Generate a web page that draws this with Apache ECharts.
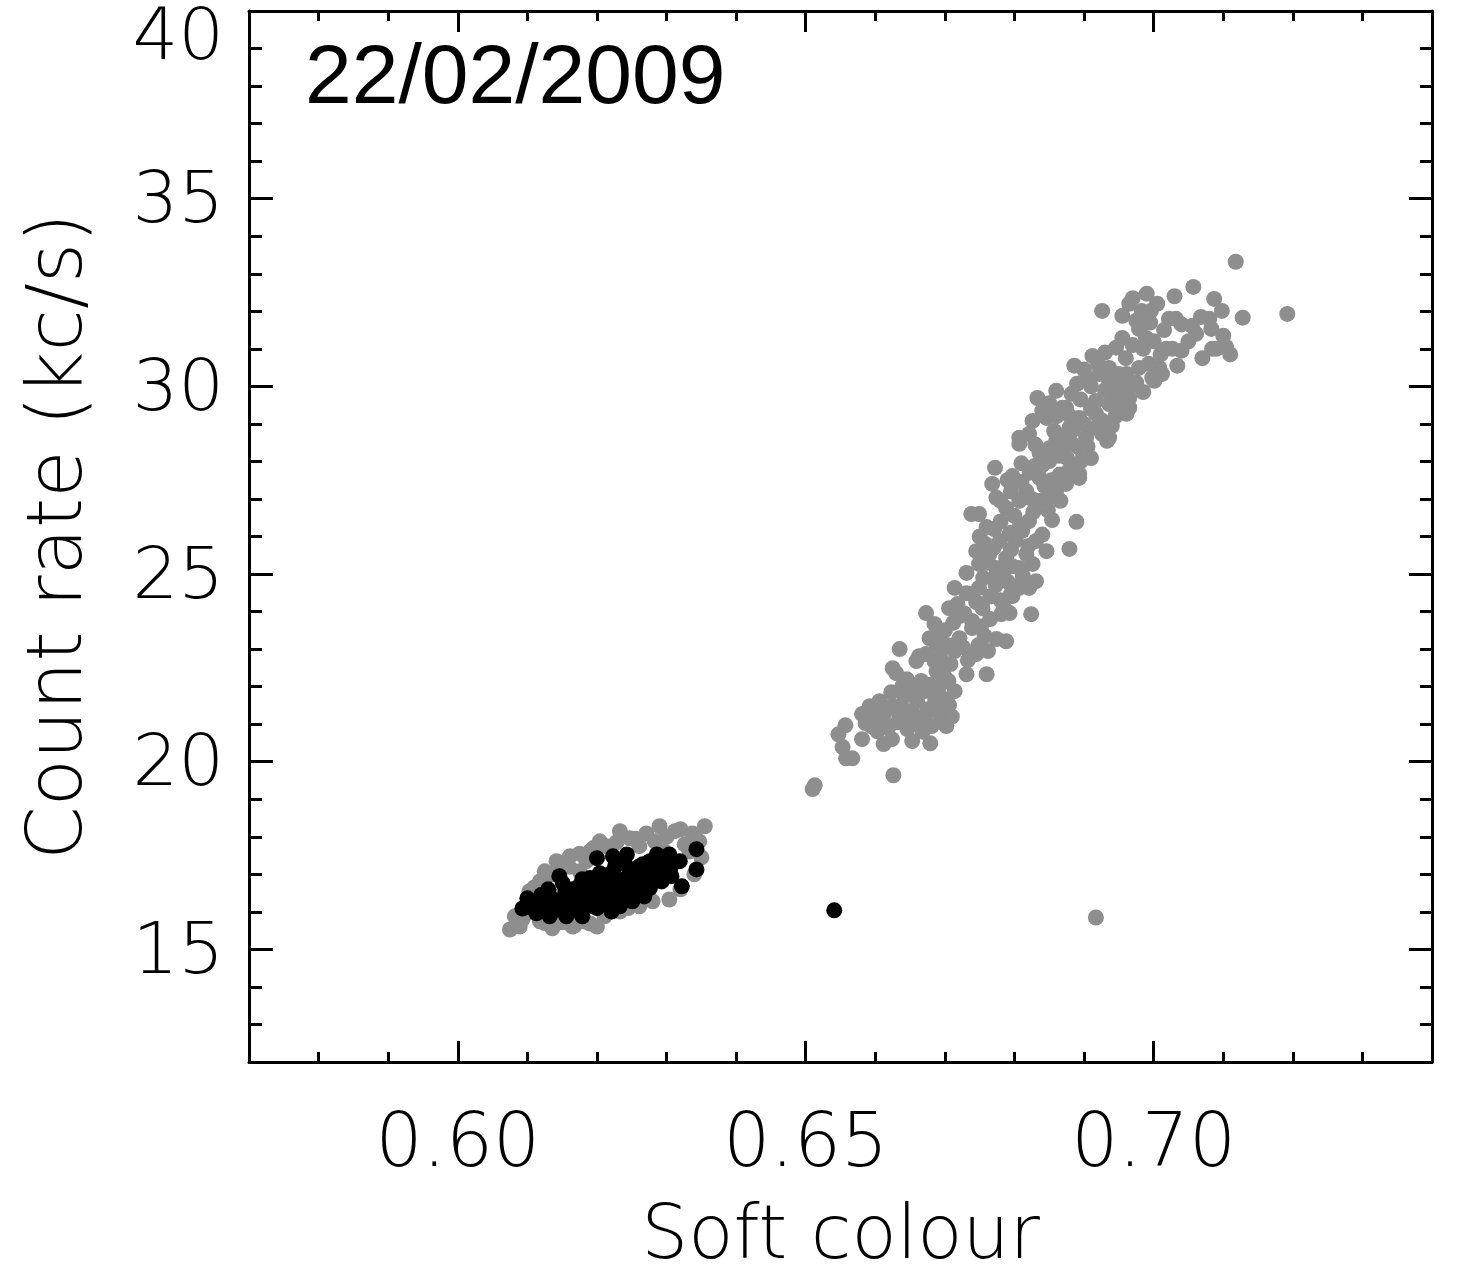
<!DOCTYPE html>
<html>
<head>
<meta charset="utf-8">
<script src="https://cdn.jsdelivr.net/npm/echarts@6/dist/echarts.min.js"></script>
<style>
html,body{margin:0;padding:0;background:#fff;}
#chart{width:1466px;height:1268px;}
</style>
</head>
<body>
<div id="chart"></div>
<script>
// ---- data (soft colour, count rate kc/s) ----
const xTickLabels = [0.60, 0.65, 0.70];
const yTickLabels = [15, 20, 25, 30, 35, 40];

const grayBandLow = [
[0.6510,19.27],[0.6513,19.37],[0.6547,20.73],[0.6557,20.97],[0.6553,20.39],[0.6558,20.09],[0.6567,20.09],[0.6581,21.27],[0.6581,20.60],[0.6626,19.64],[0.6612,20.47],[0.6653,20.55],[0.6679,20.49],[0.6702,20.97],[0.6706,21.51],
[0.6592,21.48],[0.6599,21.13],[0.6606,21.61],[0.6613,21.29],[0.6620,20.95],[0.6627,21.48],[0.6635,21.21],[0.6642,21.75],[0.6646,20.87],[0.6652,21.35],[0.6660,21.61],[0.6663,21.08],[0.6670,21.88],[0.6675,21.40],[0.6681,20.95],[0.6686,21.67],[0.6692,21.29],[0.6603,20.81],[0.6624,20.60],[0.6586,21.03],[0.6639,22.01],[0.6649,22.01],[0.6692,22.01],[0.6666,22.15],[0.6630,22.36],[0.6625,22.49],[0.6635,23.00],[0.6649,21.96],[0.6702,20.95],[0.6685,22.68],[0.6699,22.28],[0.6714,21.88],
[0.6600,21.30],[0.6610,20.90],[0.6618,21.45],[0.6632,21.05],[0.6640,21.40],[0.6655,21.15],[0.6668,20.80],[0.6672,21.25],[0.6683,21.45],[0.6695,21.70],[0.6658,21.85],[0.6645,22.20],[0.6678,22.05],[0.6690,22.45],[0.6705,22.15],[0.6594,20.95],[0.6623,21.85],[0.6697,21.05],[0.6710,21.20]
];
const grayBandMid = [
[0.6731,25.03],[0.6714,24.63],[0.6706,24.09],[0.6731,24.49],[0.6749,25.27],[0.6774,25.16],[0.6797,25.21],[0.6803,24.68],[0.6821,24.63],[0.6797,24.41],[0.6824,23.93],[0.6793,23.96],[0.6781,23.93],[0.6788,23.21],[0.6774,23.27],[0.6731,22.33],[0.6760,22.33],[0.6745,22.87],[0.6739,23.56],[0.6721,23.29],[0.6685,23.67],[0.6688,23.13],[0.6696,22.49],[0.6688,21.80],[0.6754,24.09],[0.6739,23.75],[0.6673,23.96],[0.6678,23.29],[0.6663,22.81],[0.6714,22.95],[0.6757,23.35],[0.6721,23.88],[0.6659,22.68],[0.6673,22.87],[0.6688,22.41],
[0.6693,22.80],[0.6705,23.10],[0.6700,23.50],[0.6712,23.70],[0.6726,23.05],[0.6733,22.70],[0.6748,23.10],[0.6752,23.60],[0.6765,23.80],[0.6762,22.95],[0.6718,24.20],[0.6728,23.95],[0.6745,24.25],[0.6765,24.40],[0.6780,24.30],[0.6773,24.70],[0.6693,23.40],[0.6708,22.60],[0.6785,24.10],
[0.6772,27.83],[0.6768,27.40],[0.6774,27.03],[0.6738,26.60],[0.6749,26.60],[0.6771,26.20],[0.6854,26.44],[0.6889,26.39],[0.6879,25.67],[0.6807,28.63],[0.6821,28.73],[0.6846,29.16],[0.6910,28.09],[0.6936,28.63],[0.6961,29.27],[0.6745,25.61],[0.6807,24.63],
[0.6807,28.47],[0.6836,28.23],[0.6860,28.55],[0.6883,28.47],[0.6893,29.16],[0.6917,28.89],[0.6874,29.43],[0.6850,28.01],[0.6883,27.83],[0.6893,27.56],[0.6836,27.56],[0.6817,27.21],[0.6807,26.95],[0.6788,26.76],[0.6836,26.95],[0.6860,27.21],[0.6874,27.40],[0.6793,26.07],[0.6811,26.15],[0.6831,25.88],[0.6846,25.61],[0.6817,25.53],[0.6788,25.43],[0.6764,25.53],[0.6774,25.00],[0.6807,25.16],[0.6826,25.27],[0.6831,24.81],[0.6739,24.47],[0.6749,24.63],[0.6795,24.47],
[0.6840,29.35],[0.6826,29.08],[0.6857,28.81],[0.6864,28.15],[0.6829,27.88],[0.6797,27.61],[0.6843,27.35],[0.6866,26.95],[0.6800,26.55],[0.6821,26.41],[0.6779,25.88],
[0.6755,24.90],[0.6762,25.30],[0.6785,25.10],[0.6790,24.80],[0.6812,24.95],[0.6758,25.80],[0.6770,25.70],[0.6795,25.65],[0.6802,25.90],[0.6820,25.75],[0.6840,26.05],[0.6760,26.25],[0.6780,26.40],[0.6808,26.30],[0.6827,26.65],[0.6848,26.70],[0.6795,26.10],[0.6750,26.00],
[0.6780,26.95],[0.6795,27.20],[0.6810,27.45],[0.6825,27.00],[0.6850,27.05],[0.6853,27.50],[0.6822,27.70],[0.6810,27.95],[0.6840,27.90],[0.6865,27.65],[0.6875,28.10],[0.6850,28.35],[0.6830,28.45],[0.6895,28.00],[0.6905,28.40],[0.6790,27.50],[0.6870,28.30]
];
const grayBandHigh = [
[0.6886,30.55],[0.6903,30.23],[0.6890,30.07],[0.6882,29.80],[0.6869,29.43],[0.6912,30.81],[0.6955,31.29],[0.6946,31.03],[0.6989,31.29],[0.7018,31.00],[0.7027,31.00],[0.7034,30.55],[0.7008,30.49],[0.7001,30.15],[0.6965,29.69],[0.6936,30.15],[0.6961,30.33],[0.6979,30.49],[0.6936,29.53],[0.6917,29.27],[0.6926,28.73],[0.6933,28.55],[0.6893,28.36],[0.6878,27.75],[0.6893,27.67],[0.6874,28.63],[0.7061,31.40],[0.7084,31.00],
[0.7118,33.32],[0.7192,31.93],[0.7128,31.83],[0.7057,32.65],[0.7087,32.33],[0.7098,32.01],[0.7080,31.80],[0.7055,31.61],[0.7083,31.53],[0.7090,31.00],[0.7104,31.05],[0.7022,31.80],[0.7032,31.80],[0.6990,32.47],[0.6965,32.20],[0.6955,31.88],[0.6926,32.01],[0.6983,32.01],[0.6996,32.01],[0.6979,31.53],[0.7012,30.33],[0.6860,29.88],[0.6833,29.69],
[0.6936,30.49],[0.6922,30.33],[0.6950,30.33],[0.6965,29.96],[0.6946,29.80],[0.6965,29.43],[0.6917,29.61],[0.6879,28.89],[0.6903,28.63],[0.6993,30.60],[0.6998,30.23],
[0.6885,28.85],[0.6900,29.00],[0.6910,29.40],[0.6895,29.65],[0.6880,29.20],[0.6925,29.10],[0.6945,29.20],[0.6950,29.55],[0.6930,29.90],[0.6910,30.00],[0.6900,30.45],[0.6955,30.00],[0.6975,30.10],[0.6985,29.85],[0.6940,28.95],[0.6860,29.20],[0.6920,30.60],[0.6850,29.55],
[0.6930,30.90],[0.6960,30.75],[0.6970,31.10],[0.6985,31.00],[0.7000,31.20],[0.7010,30.85],[0.7040,30.95],[0.7050,31.20],[0.7015,31.50],[0.6995,31.70],[0.7040,31.65],[0.7068,31.85],[0.6970,32.35],[0.7005,32.20],[0.7030,32.40],[0.6975,31.75],[0.7070,30.75],[0.7100,31.35],[0.7110,30.85]
];
const grayClump = [
[0.6075,15.53],[0.6082,15.88],[0.6093,15.80],[0.6089,15.61],[0.6136,15.56],[0.6165,15.61],[0.6190,15.69],[0.6211,15.88],[0.6233,16.01],[0.6261,16.15],[0.6304,16.33],[0.6142,17.35],[0.6161,17.48],[0.6190,17.61],[0.6214,17.75],[0.6247,17.96],[0.6271,18.09],[0.6290,18.28],[0.6312,18.15],[0.6337,18.09],[0.6355,18.28],[0.6347,17.88],[0.6125,17.08],[0.6118,16.81],[0.6103,16.55],[0.6233,18.15],[0.6326,17.80],[0.6283,17.88],[0.6154,15.88],[0.6118,15.75],[0.6175,16.15],[0.6240,17.21],[0.6276,17.08],[0.6175,17.08],[0.6218,16.68],[0.6146,16.41],[0.6261,16.55],[0.6333,17.61],[0.6297,17.61],[0.6204,17.88],[0.6261,17.75],[0.6204,16.28],[0.6168,15.64],[0.6200,15.61],
[0.6110,16.20],[0.6098,15.95],[0.6125,15.70],[0.6150,15.72],[0.6180,15.75],[0.6215,15.98],[0.6245,16.10],[0.6280,16.28],[0.6320,16.60],[0.6340,17.00],[0.6350,17.45],[0.6340,18.00],[0.6320,18.20],[0.6300,18.00],[0.6255,17.95],[0.6228,17.85],[0.6195,17.70],[0.6175,17.55],[0.6150,17.25],[0.6135,17.00],[0.6110,16.65],[0.6160,17.20],[0.6185,17.35]
];
const grayOutliers = [[0.6917,15.85]];

const blackClump = [
[0.6100,16.36],[0.6093,16.09],[0.6113,15.96],[0.6146,16.95],[0.6151,16.76],[0.6132,16.41],[0.6165,16.60],[0.6179,16.87],[0.6200,17.43],[0.6204,17.03],[0.6156,15.88],[0.6179,15.88],[0.6194,16.15],[0.6132,15.88],[0.6108,16.09],[0.6343,17.67],[0.6343,17.13],[0.6322,16.68],[0.6307,16.95],[0.6286,17.53],[0.6304,17.53],[0.6243,17.53],[0.6223,17.48],[0.6266,17.27],[0.6290,17.08],[0.6251,16.89],[0.6233,16.55],[0.6214,16.36],[0.6251,16.28],[0.6276,16.63],[0.6218,17.00],
[0.6125,16.28],[0.6146,16.15],[0.6168,16.28],[0.6190,16.55],[0.6211,16.81],[0.6226,17.21],[0.6261,16.81],[0.6283,16.95],[0.6297,17.21],[0.6233,16.15],[0.6182,16.41],[0.6161,16.41],[0.6118,16.15],[0.6204,16.41],[0.6221,16.01],[0.6268,16.41],[0.6245,16.60],[0.6293,16.81],[0.6319,17.35],[0.6276,17.35],
[0.6130,16.60],[0.6140,16.25],[0.6155,16.55],[0.6175,16.70],[0.6190,16.90],[0.6200,16.75],[0.6215,16.60],[0.6235,16.85],[0.6250,17.10],[0.6240,17.30],[0.6265,17.05],[0.6280,17.20],[0.6295,17.40],[0.6310,17.30],[0.6190,16.25],[0.6175,16.05],[0.6160,16.00],[0.6210,16.20],[0.6240,16.40],[0.6260,16.60],[0.6120,16.45],[0.6105,16.25],
[0.6150,16.35],[0.6170,16.45],[0.6185,16.65],[0.6205,16.55],[0.6225,16.75],[0.6245,16.95],[0.6260,17.20],[0.6275,16.85],[0.6290,17.30],[0.6305,17.10],[0.6230,16.35],[0.6200,16.10],[0.6140,16.05],[0.6260,16.45]
];
const blackOutliers = [[0.6541,16.04]];

const grayAll = grayBandLow.concat(grayBandMid, grayBandHigh, grayClump, grayOutliers);
const blackAll = blackClump.concat(blackOutliers);

// ---- styles ----
const LABEL_FONT = 'DejaVu Sans';
const GRAY = '#8e8e8e';
const X_MIN = 0.57, X_MAX = 0.74, Y_MIN = 12, Y_MAX = 40;
const xTickFont = { fontFamily: LABEL_FONT, fontWeight: 200, fontSize: 74, color: '#000' };
const yTickFont = { fontFamily: LABEL_FONT, fontWeight: 200, fontSize: 72, color: '#000' };

function xAxisDef(pos, len, major, showLine, showLabel) {
  return {
    type: 'value', position: pos, min: X_MIN, max: X_MAX, interval: 0.01,
    axisLine: { show: showLine, onZero: false, lineStyle: { color: '#000', width: 3 } },
    axisTick: major
      ? { show: true, inside: true, length: len, customValues: xTickLabels, lineStyle: { color: '#000', width: 3 } }
      : { show: true, inside: true, length: len, lineStyle: { color: '#000', width: 3 } },
    axisLabel: showLabel
      ? Object.assign({ show: true, customValues: xTickLabels, formatter: v => Number(v).toFixed(2), margin: 48 }, xTickFont)
      : { show: false },
    splitLine: { show: false },
    name: showLabel ? 'Soft colour' : '',
    nameLocation: 'middle', nameGap: 140,
    nameTextStyle: { fontFamily: LABEL_FONT, fontWeight: 200, fontSize: 74, color: '#000' }
  };
}
function yAxisDef(pos, len, major, showLine, showLabel) {
  return {
    type: 'value', position: pos, min: Y_MIN, max: Y_MAX, interval: 1,
    axisLine: { show: showLine, onZero: false, lineStyle: { color: '#000', width: 3 } },
    axisTick: major
      ? { show: true, inside: true, length: len, customValues: yTickLabels, lineStyle: { color: '#000', width: 3 } }
      : { show: true, inside: true, length: len, lineStyle: { color: '#000', width: 3 } },
    axisLabel: showLabel
      ? Object.assign({ show: true, customValues: yTickLabels, margin: 25,
          formatter: v => (v === Y_MAX ? '{t|' + v + '}' : '{n|' + v + '}'),
          rich: {
            n: Object.assign({ padding: [10, 0, 0, 0] }, yTickFont),
            t: Object.assign({ padding: [58, 0, 0, 0] }, yTickFont)
          } }, yTickFont)
      : { show: false },
    splitLine: { show: false },
    name: showLabel ? 'Count rate (kc/s)' : '',
    nameLocation: 'middle', nameGap: 150,
    nameTextStyle: { fontFamily: LABEL_FONT, fontWeight: 200, fontSize: 77, color: '#000' }
  };
}

const chart = echarts.init(document.getElementById('chart'), null, { renderer: 'canvas' });
chart.setOption({
  backgroundColor: '#fff',
  animation: false,
  title: {
    text: '22/02/2009', left: 300, top: 33,
    textStyle: { fontFamily: 'Liberation Sans', fontSize: 84, fontWeight: 'normal', color: '#000' }
  },
  grid: { left: 249, right: 34, top: 11, bottom: 206, containLabel: false, outerBoundsMode: 'none' },
  xAxis: [
    xAxisDef('bottom', 10, false, true, true),
    xAxisDef('bottom', 21, true, false, false),
    xAxisDef('top', 10, false, true, false),
    xAxisDef('top', 21, true, false, false)
  ],
  yAxis: [
    yAxisDef('left', 13, false, true, true),
    yAxisDef('left', 24, true, false, false),
    yAxisDef('right', 12, false, true, false),
    yAxisDef('right', 23, true, false, false)
  ],
  series: [
    { type: 'scatter', xAxisIndex: 0, yAxisIndex: 0, data: grayAll, symbol: 'circle', symbolSize: 16,
      itemStyle: { color: GRAY, opacity: 1 }, emphasis: { disabled: true } },
    { type: 'scatter', xAxisIndex: 0, yAxisIndex: 0, data: blackAll, symbol: 'circle', symbolSize: 16,
      itemStyle: { color: '#000', opacity: 1 }, emphasis: { disabled: true } }
  ]
});
</script>
</body>
</html>
